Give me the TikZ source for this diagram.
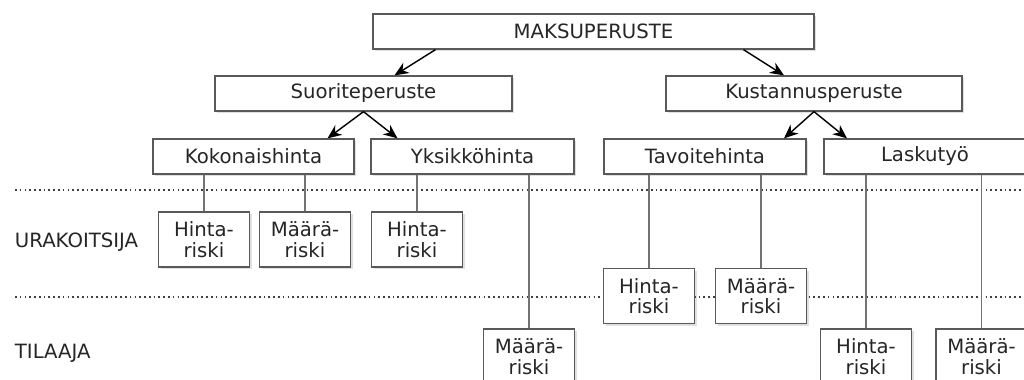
\documentclass[tikz,border=0pt]{standalone}
\usepackage{fontspec}
\setmainfont{DejaVu Sans}
\usetikzlibrary{arrows.meta,calc,shadows}

\begin{document}
\begin{tikzpicture}[x=0.025cm,y=-0.025cm,
  >={Stealth[length=10pt,width=8.5pt]},
  box/.style={rectangle,draw=black!65,line width=0.9pt,fill=white,text=black!85,
    font=\fontsize{14}{14.5}\selectfont,inner sep=0pt,minimum height=0.875cm,
    minimum width=#1*0.025cm,
    drop shadow={shadow xshift=1.5pt,shadow yshift=-1.5pt,opacity=0.2,fill=black!60}},
  riski/.style={box=91,minimum height=1.375cm,align=center},
  conn/.style={draw=black!55,line width=1.3pt},
  sep/.style={draw=black!75,line width=0.8pt,dash pattern=on 1.2pt off 2.2pt},
  side/.style={anchor=west,text=black!85,font=\fontsize{14}{14.5}\selectfont}]
\clip (0,0) rectangle (1024,380);
\fill[white] (0,0) rectangle (1024,380);

% separators
\draw[sep] (15,190) -- (1024,190);
\draw[sep] (15,297) -- (1024,297);

\node[side] (U) at (10,242) {URAKOITSIJA};
\node[side] (T) at (10,353) {TILAAJA};

% levels
\node[box=441] (MP) at (593.5,31.5) {MAKSUPERUSTE};
\node[box=297] (SP) at (363.5,93.5) {Suoriteperuste};
\node[box=296] (KP) at (814,93.5) {Kustannusperuste};
\node[box=201] (KH) at (253.5,156.5) {Kokonaishinta};
\node[box=203] (YH) at (472.5,156.5) {Yksikköhinta};
\node[box=202] (TH) at (705,156.5) {Tavoitehinta};
\node[box=202] (LT) at (925,156.5) {Laskutyö};

% risks
\node[riski] (KHH) at (204,239.5) {Hinta-\\riski};
\node[riski] (KHM) at (305,239.5) {Määrä-\\riski};
\node[riski] (YHH) at (417,239.5) {Hinta-\\riski};
\node[riski] (YHM) at (529,356.5) {Määrä-\\riski};
\node[riski] (THH) at (649,296) {Hinta-\\riski};
\node[riski] (THM) at (761,296) {Määrä-\\riski};
\node[riski] (LTH) at (866,356.5) {Hinta-\\riski};
\node[riski] (LTM) at (981.5,356.5) {Määrä-\\riski};

\draw[->,line width=1pt] ($(MP.south)+(-158,0)$) -- ($(SP.north)+(31,0)$);
\draw[->,line width=1pt] ($(MP.south)+(150,0)$) -- ($(KP.north)+(-30,0)$);
\draw[->,line width=1pt] (SP.south) -- ($(KH.north)+(74,0)$);
\draw[->,line width=1pt] (SP.south) -- ($(YH.north)+(-75,0)$);
\draw[->,line width=1pt] (KP.south) -- ($(TH.north)+(79,0)$);
\draw[->,line width=1pt] (KP.south) -- ($(LT.north)+(-78,0)$);

\draw[conn] (KHH.north) -- (KHH.north |- KH.south);
\draw[conn] (KHM.north) -- (KHM.north |- KH.south);
\draw[conn] (YHH.north) -- (YHH.north |- YH.south);
\draw[conn] (YHM.north) -- (YHM.north |- YH.south);
\draw[conn] (THH.north) -- (THH.north |- TH.south);
\draw[conn] (THM.north) -- (THM.north |- TH.south);
\draw[conn] (LTH.north) -- (LTH.north |- LT.south);
\draw[conn] (LTM.north) -- (LTM.north |- LT.south);
\end{tikzpicture}
\end{document}
